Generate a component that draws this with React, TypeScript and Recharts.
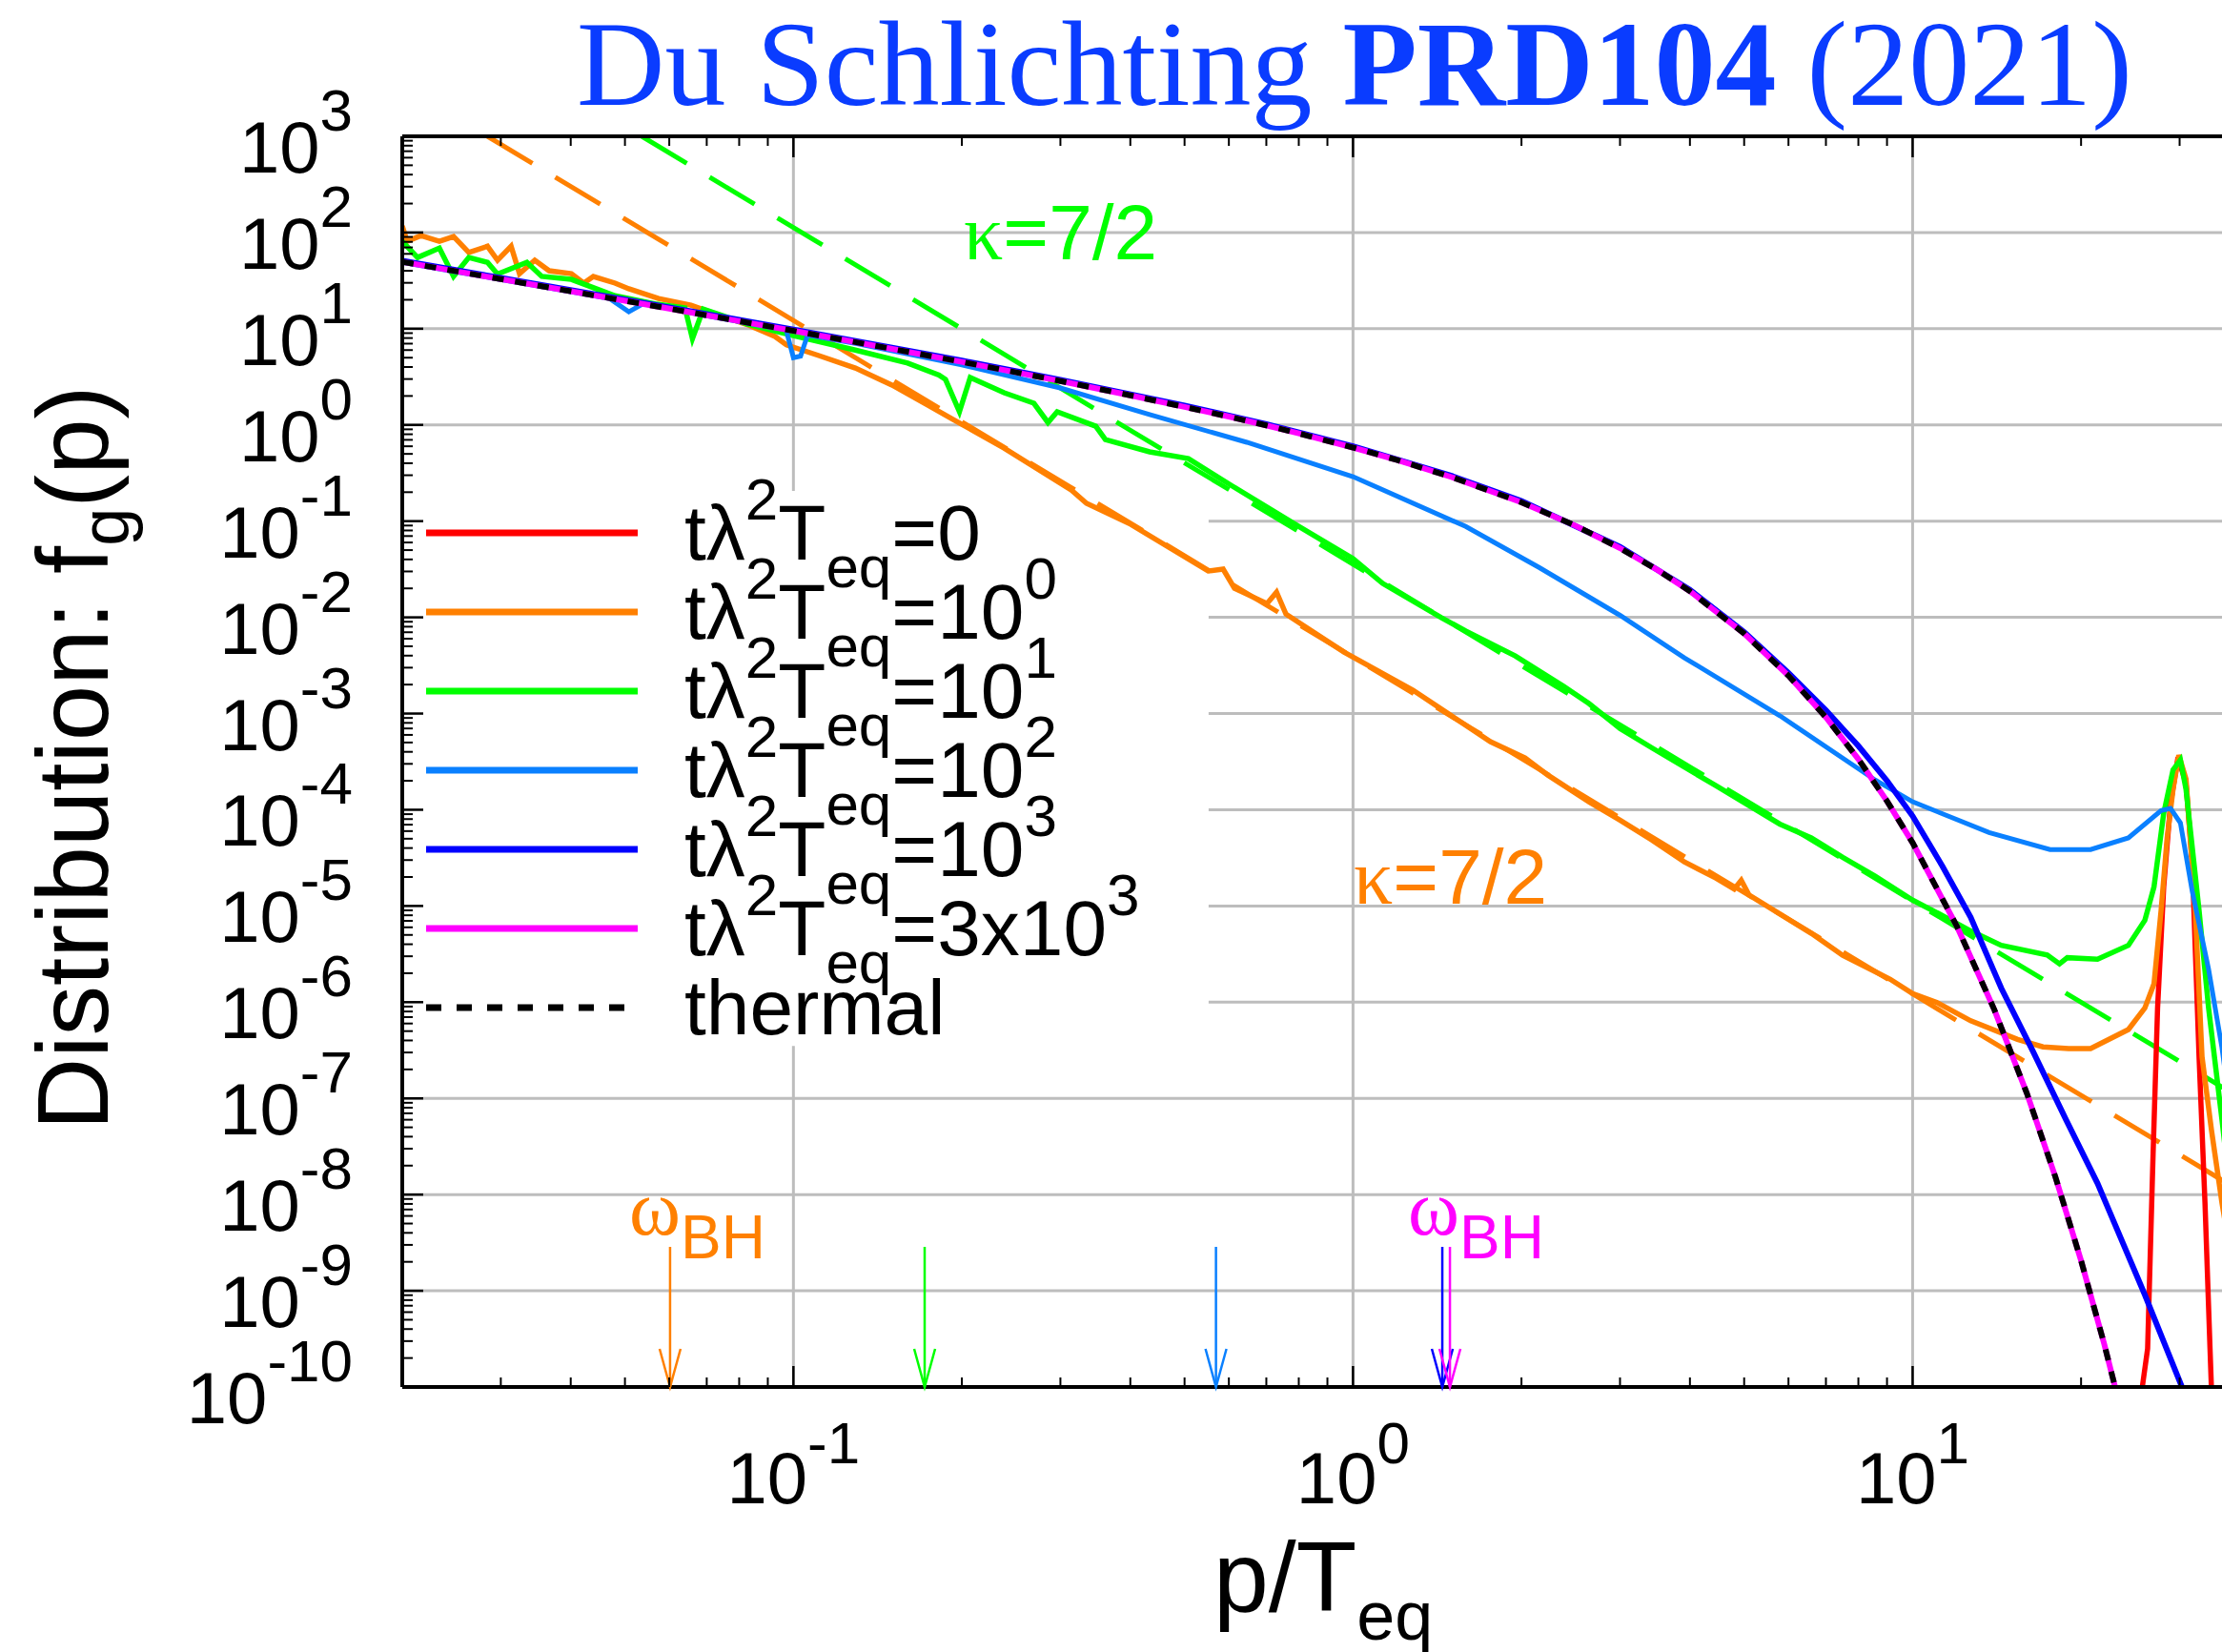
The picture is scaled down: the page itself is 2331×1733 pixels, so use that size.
import React from 'react';
import { LineChart, Line, XAxis, YAxis, ReferenceLine, ReferenceDot } from 'recharts';

// page / plot geometry
const W = 2331;
const H = 1733;
const CHART_W = 2340;
const PLOT_TOP = 143;
const PLOT_BOTTOM = 1455;
const PLOT_H = PLOT_BOTTOM - PLOT_TOP;

const X_MIN = 0.02;
const X_MAX = 37;
const Y_MIN = 1e-10;
const Y_MAX = 1e3;

const SANS = '"Liberation Sans", Arial, Helvetica, sans-serif';
const SERIF = '"Liberation Serif", "Times New Roman", serif';

const RED = '#ff0000';
const ORANGE = '#ff8000';
const GREEN = '#00ff00';
const LIGHTBLUE = '#0a80ff';
const BLUE = '#0000ff';
const MAGENTA = '#ff00ff';
const GRID = '#bdbdbd';

// ---- data, [p/Teq, f_g(p)] ----
const thermal: [number, number][] = [
  [0.02, 49.5], [0.025, 39.5], [0.03, 32.8], [0.04, 24.5], [0.05, 19.5], [0.06, 16.2],
  [0.07, 13.8], [0.08, 12.0], [0.1, 9.51], [0.12, 7.84], [0.15, 6.18], [0.2, 4.52],
  [0.25, 3.52], [0.3, 2.86], [0.4, 2.03], [0.5, 1.54], [0.6, 1.22], [0.7, 0.99],
  [0.8, 0.816], [1, 0.582], [1.2, 0.431], [1.5, 0.287], [2, 0.157], [2.5, 0.0894],
  [3, 0.0524], [3.5, 0.0311], [4, 0.0187], [5, 0.00678], [6, 0.00248], [7, 0.000913],
  [8, 0.000336], [9, 0.000123], [10, 4.54e-5], [12, 6.14e-6], [14, 8.32e-7], [16, 1.13e-7],
  [18, 1.52e-8], [20, 2.06e-9], [22, 2.79e-10], [24, 3.78e-11],
];

// t lambda^2 Teq = 3x10^3 sits on the thermal curve
const late: [number, number][] = thermal;

const blue3: [number, number][] = [
  [0.02, 51], [0.03, 33.8], [0.05, 20.1], [0.07, 14.2], [0.1, 9.8], [0.15, 6.37],
  [0.2, 4.66], [0.3, 2.95], [0.5, 1.59], [0.7, 1.02], [1, 0.6], [1.5, 0.296],
  [2, 0.162], [3, 0.054], [4, 0.0193], [5, 0.00705], [6, 0.00265], [7, 0.00108],
  [8, 4.6e-4], [9, 2.0e-4], [10, 8.6e-5], [11.3, 2.6e-5], [12.7, 7.6e-6], [14.4, 1.4e-6],
  [16.4, 3.1e-7], [18.8, 6.0e-8], [21.4, 1.31e-8], [26, 9.1e-10], [30.4, 9.5e-11], [33, 2e-11],
];

const blue2: [number, number][] = [
  [0.02, 49], [0.025, 39], [0.03, 32.5], [0.04, 24.2], [0.047, 20.5], [0.0508, 15],
  [0.054, 18.3], [0.07, 13.6], [0.09, 10.5], [0.097, 9.8], [0.1, 5.0], [0.103, 5.2],
  [0.106, 8.6], [0.13, 7.0], [0.2, 4.2], [0.3, 2.42], [0.433, 1.28], [0.646, 0.66],
  [1, 0.29], [1.59, 0.088], [2.15, 0.033], [3, 0.0105], [3.91, 0.0038], [5.79, 9.5e-4],
  [8.57, 2.04e-4], [10, 1.21e-4], [13.7, 5.8e-5], [17.6, 3.86e-5], [20.8, 3.86e-5],
  [24.3, 5.1e-5], [27.8, 9.8e-5], [28.9, 1.03e-4], [30.1, 7.3e-5], [31.6, 1.42e-5],
  [33.8, 2.2e-6], [35.7, 3.4e-7], [37.5, 4e-8],
];

const green1: [number, number][] = [
  [0.02, 81], [0.0213, 55], [0.0233, 69], [0.0247, 35], [0.0263, 55], [0.0284, 49],
  [0.0296, 37], [0.0334, 49], [0.0355, 35], [0.0401, 32.6], [0.048, 22], [0.057, 18],
  [0.064, 16.5], [0.066, 7.9], [0.069, 16.0], [0.0825, 11.2], [0.1, 8.5], [0.129, 6.0],
  [0.16, 4.4], [0.182, 3.3], [0.187, 2.97], [0.198, 1.37], [0.207, 3.11], [0.238, 2.16],
  [0.269, 1.68], [0.285, 1.06], [0.296, 1.37], [0.347, 0.97], [0.361, 0.705],
  [0.433, 0.525], [0.508, 0.447], [0.609, 0.231], [0.789, 0.0925], [1.0, 0.0407],
  [1.13, 0.0225], [1.44, 0.0099], [1.59, 0.0072], [1.95, 0.00397], [2.38, 0.00191],
  [2.64, 0.00127], [3.0, 7.0e-4], [3.42, 4.4e-4], [4.45, 1.78e-4], [5.79, 7.1e-5],
  [6.59, 5.1e-5], [7.5, 3.2e-5], [8.57, 2.04e-5], [10, 1.15e-5], [11.1, 8.4e-6],
  [12.7, 5.5e-6], [14.4, 3.9e-6], [17.4, 3.1e-6], [18.3, 2.5e-6], [18.9, 2.9e-6],
  [21.4, 2.8e-6], [24.3, 3.9e-6], [26.0, 7.1e-6], [27.0, 1.58e-5], [28.1, 9.2e-5],
  [29.2, 2.6e-4], [30.1, 3.3e-4], [30.8, 1.63e-4], [32.5, 9.0e-6], [33.8, 8.7e-7],
  [35.7, 6.1e-8], [37.5, 5e-9],
];

const orange0: [number, number][] = [
  [0.02, 117], [0.0204, 81], [0.0216, 93], [0.0233, 81], [0.0247, 91], [0.0263, 62],
  [0.0284, 72], [0.0296, 51.5], [0.0313, 72], [0.0324, 37.4], [0.0345, 51.5], [0.0366, 40],
  [0.0401, 37.4], [0.0422, 29.8], [0.0439, 34.9], [0.048, 29.8], [0.0508, 26], [0.0574, 20.6],
  [0.0656, 17.6], [0.0708, 15], [0.0825, 11.1], [0.0927, 8.3], [0.0972, 6.8], [0.111, 5.26],
  [0.129, 3.9], [0.15, 2.6], [0.174, 1.6], [0.193, 1.14], [0.238, 0.574], [0.314, 0.21],
  [0.334, 0.153], [0.401, 0.0925], [0.551, 0.0303], [0.586, 0.0317], [0.614, 0.02],
  [0.702, 0.0139], [0.73, 0.0183], [0.759, 0.0108], [0.964, 4.35e-3], [1.28, 1.75e-3],
  [1.76, 5.1e-4], [2.03, 3.45e-4], [2.23, 2.29e-4], [2.64, 1.21e-4], [3.0, 7.8e-5],
  [3.42, 4.85e-5], [3.91, 2.87e-5], [4.45, 1.95e-5], [4.8, 1.5e-5], [4.94, 1.85e-5],
  [5.1, 1.3e-5], [6.59, 5.2e-6], [7.5, 3.07e-6], [9.12, 1.73e-6], [10, 1.23e-6],
  [11.1, 9.8e-7], [12.7, 6.4e-7], [15.4, 4.1e-7], [17.1, 3.43e-7], [19.0, 3.3e-7],
  [20.8, 3.3e-7], [24.3, 5.2e-7], [26.0, 8.7e-7], [27.0, 1.55e-6], [27.8, 9.0e-6],
  [28.5, 5.1e-5], [29.2, 1.63e-4], [29.9, 3.7e-4], [30.8, 2.09e-4], [32.0, 9.0e-6],
  [32.9, 2.7e-7], [34.2, 4.7e-8], [35.7, 8.3e-9], [37.5, 1.5e-9],
];

const initial: [number, number][] = [
  [25.0, 2e-11], [25.7, 9.5e-11], [26.3, 2.5e-10], [26.9, 2.66e-8], [27.4, 8.7e-7],
  [28.1, 1.58e-5], [28.9, 1.15e-4], [29.8, 3.5e-4], [30.8, 1.87e-4], [31.6, 2.87e-5],
  [32.5, 2.7e-7], [33.3, 8.3e-9], [34.0, 2.5e-10], [34.2, 9.5e-11], [34.6, 2e-11],
];

// kappa = 7/2 power-law guides (where they cross the frame)
const fitOrange: [number, number][] = [[0.0284, 1000], [37, 1.25e-8]];
const fitGreen: [number, number][] = [[0.0536, 1000], [37, 1.16e-7]];

// omega_BH arrows (p/Teq positions)
const arrowX = [0.0602, 0.1716, 0.569, 1.444, 1.49];
const arrowColors = [ORANGE, GREEN, LIGHTBLUE, BLUE, MAGENTA];

// ticks
const xMajor = [0.1, 1, 10];
const xMinor = [0.02, 0.03, 0.04, 0.05, 0.06, 0.07, 0.08, 0.09, 0.2, 0.3, 0.4, 0.5, 0.6, 0.7, 0.8, 0.9, 2, 3, 4, 5, 6, 7, 8, 9, 20, 30];
const yExps = [3, 2, 1, 0, -1, -2, -3, -4, -5, -6, -7, -8, -9, -10];
const X_TICKS = [...xMajor, ...xMinor].sort((a, b) => a - b);
const Y_TICKS: number[] = [];
yExps.forEach((e) => {
  Y_TICKS.push(Math.pow(10, e));
  if (e < 3) [2, 3, 4, 5, 6, 7, 8, 9].forEach((m) => Y_TICKS.push(m * Math.pow(10, e)));
});

// grid: white legend box hides part of it
const gridY = [100, 10, 1, 0.1, 0.01, 1e-3, 1e-4, 1e-5, 1e-6, 1e-7, 1e-8, 1e-9];
const gridX = [0.1, 1, 10];
const boxRight = 0.552;
const boxTop = 0.2056;
const boxBottom = 3.5e-7;

const legendItems = [
  { pre: '=0', exp: '', color: RED },
  { pre: '=10', exp: '0', color: ORANGE },
  { pre: '=10', exp: '1', color: GREEN },
  { pre: '=10', exp: '2', color: LIGHTBLUE },
  { pre: '=10', exp: '3', color: BLUE },
  { pre: '=3x10', exp: '3', color: MAGENTA },
];

const pts = (a: [number, number][]) => a.map(([x, y]) => ({ x, y }));

const isMajor = (v: number) => {
  const lg = Math.log10(v);
  return Math.abs(lg - Math.round(lg)) < 1e-6;
};

const YTick = (props: any) => {
  const { x, y, payload } = props;
  const v = payload.value;
  const major = isMajor(v);
  return (
    <g>
      <line x1={x} x2={x + (major ? 22 : 11)} y1={y} y2={y} stroke="#000" strokeWidth={major ? 2.5 : 2} />
      {major && (
        <text x={x - 52} y={y + 38} textAnchor="end" fontFamily={SANS} fontSize={76} fill="#000">
          10<tspan dy={-44} fontSize={62}>{Math.round(Math.log10(v))}</tspan>
        </text>
      )}
    </g>
  );
};

const XTick = (props: any) => {
  const { x, y, payload } = props;
  const v = payload.value;
  const major = isMajor(v);
  const len = major ? 22 : 10;
  return (
    <g>
      <line x1={x} x2={x} y1={y} y2={y - len} stroke="#000" strokeWidth={major ? 2.5 : 2} />
      <line x1={x} x2={x} y1={y - PLOT_H} y2={y - PLOT_H + len} stroke="#000" strokeWidth={major ? 2.5 : 2} />
      {major && (
        <text x={x} y={y + 122} textAnchor="middle" fontFamily={SANS} fontSize={76} fill="#000">
          10<tspan dy={-42} fontSize={62}>{Math.round(Math.log10(v))}</tspan>
        </text>
      )}
    </g>
  );
};

const arrowShape = (color: string) => (props: any) => {
  const { cx, cy } = props;
  return (
    <g stroke={color} strokeWidth={2.5} fill="none">
      <line x1={cx} y1={cy - 147} x2={cx} y2={cy} />
      <polyline points={`${cx - 11},${cy - 40} ${cx},${cy} ${cx + 11},${cy - 40}`} />
    </g>
  );
};

export default function App() {
  const lineProps = { dataKey: 'y', dot: false, activeDot: false, isAnimationActive: false, type: 'linear' as const };
  return (
    <div style={{ position: 'absolute', left: 0, top: 0, width: W, height: H, overflow: 'hidden', background: '#fff' }}>
      <LineChart width={CHART_W} height={H} margin={{ top: PLOT_TOP, right: 0, left: 322, bottom: H - PLOT_BOTTOM - 100 }}>
        <XAxis
          dataKey="x"
          type="number"
          scale="log"
          domain={[X_MIN, X_MAX]}
          allowDataOverflow
          ticks={X_TICKS}
          interval={0}
          tick={XTick}
          tickLine={false}
          tickSize={0}
          tickMargin={0}
          height={100}
          axisLine={{ stroke: '#000', strokeWidth: 4 }}
        />
        <YAxis
          type="number"
          scale="log"
          domain={[Y_MIN, Y_MAX]}
          allowDataOverflow
          ticks={Y_TICKS}
          interval={0}
          tick={YTick}
          tickLine={false}
          tickSize={0}
          tickMargin={0}
          width={100}
          axisLine={{ stroke: '#000', strokeWidth: 4 }}
        />

        {/* grid, cut where the legend box sits */}
        {gridY.map((g) =>
          g < boxTop && g > boxBottom ? (
            <ReferenceLine key={`gy${g}`} segment={[{ x: boxRight, y: g }, { x: X_MAX, y: g }]} stroke={GRID} strokeWidth={3} zIndex={-100} />
          ) : (
            <ReferenceLine key={`gy${g}`} y={g} stroke={GRID} strokeWidth={3} zIndex={-100} />
          )
        )}
        {gridX.map((g) =>
          g < boxRight ? (
            <React.Fragment key={`gx${g}`}>
              <ReferenceLine segment={[{ x: g, y: Y_MAX }, { x: g, y: boxTop }]} stroke={GRID} strokeWidth={3} zIndex={-100} />
              <ReferenceLine segment={[{ x: g, y: boxBottom }, { x: g, y: Y_MIN }]} stroke={GRID} strokeWidth={3} zIndex={-100} />
            </React.Fragment>
          ) : (
            <ReferenceLine key={`gx${g}`} x={g} stroke={GRID} strokeWidth={3} zIndex={-100} />
          )
        )}

        <Line {...lineProps} data={pts(fitOrange)} stroke={ORANGE} strokeWidth={5} strokeDasharray="55 28" />
        <Line {...lineProps} data={pts(fitGreen)} stroke={GREEN} strokeWidth={5} strokeDasharray="55 28" />
        <Line {...lineProps} data={pts(initial)} stroke={RED} strokeWidth={5.5} />
        <Line {...lineProps} data={pts(orange0)} stroke={ORANGE} strokeWidth={5.5} />
        <Line {...lineProps} data={pts(green1)} stroke={GREEN} strokeWidth={5.5} />
        <Line {...lineProps} data={pts(blue2)} stroke={LIGHTBLUE} strokeWidth={5} />
        <Line {...lineProps} data={pts(blue3)} stroke={BLUE} strokeWidth={6} />
        <Line {...lineProps} data={pts(late)} stroke={MAGENTA} strokeWidth={6} />
        <Line {...lineProps} data={pts(thermal)} stroke="#000" strokeWidth={6} strokeDasharray="12 12" />

        <ReferenceLine y={Y_MAX} stroke="#000" strokeWidth={4} />

        {arrowX.map((ax, i) => (
          <ReferenceDot key={`ar${i}`} x={ax} y={Y_MIN} r={1} shape={arrowShape(arrowColors[i])} />
        ))}
      </LineChart>

      <svg width={W} height={H} style={{ position: 'absolute', left: 0, top: 0, pointerEvents: 'none' }}>
        <text x={605} y={110} fontFamily={SERIF} fontSize={128} fill="#0a3cff">
          {'Du Schlichting '}
          <tspan fontWeight="bold">PRD104</tspan>
          {' (2021)'}
        </text>

        <text transform="translate(113,795) rotate(-90)" textAnchor="middle" fontFamily={SANS} fontSize={105} fill="#000">
          Distribution: f<tspan dy={22} fontSize={72}>g</tspan>
          <tspan dy={-22}>(p)</tspan>
        </text>

        <text x={1273} y={1690} fontFamily={SANS} fontSize={104} fill="#000">
          p/T<tspan dy={30} fontSize={72}>eq</tspan>
        </text>

        {legendItems.map((it, i) => {
          const ry = 559 + i * 83;
          return (
            <g key={`lg${i}`}>
              <line x1={447} x2={669} y1={ry} y2={ry} stroke={it.color} strokeWidth={7} />
              <text x={718} y={ry + 28} fontFamily={SANS} fontSize={82} fill="#000">
                tλ<tspan dy={-42} fontSize={62}>2</tspan>
                <tspan dy={42}>T</tspan>
                <tspan dy={29} fontSize={62}>eq</tspan>
                <tspan dy={-29}>{it.pre}</tspan>
                {it.exp && <tspan dy={-42} fontSize={62}>{it.exp}</tspan>}
              </text>
            </g>
          );
        })}
        <line x1={447} x2={669} y1={1057} y2={1057} stroke="#000" strokeWidth={7} strokeDasharray="16 16" />
        <text x={718} y={1085} fontFamily={SANS} fontSize={82} fill="#000">thermal</text>

        <text x={1011} y={272} fontFamily={SANS} fontSize={82} fill={GREEN}>
          <tspan fontFamily={SERIF}>κ</tspan>=7/2
        </text>
        <text x={1420} y={948} fontFamily={SANS} fontSize={82} fill={ORANGE}>
          <tspan fontFamily={SERIF}>κ</tspan>=7/2
        </text>

        <text x={660} y={1295} fontFamily={SERIF} fontSize={82} fill={ORANGE}>
          ω<tspan dy={25} fontFamily={SANS} fontSize={64}>BH</tspan>
        </text>
        <text x={1477} y={1295} fontFamily={SERIF} fontSize={82} fill={MAGENTA}>
          ω<tspan dy={25} fontFamily={SANS} fontSize={64}>BH</tspan>
        </text>
      </svg>
    </div>
  );
}
